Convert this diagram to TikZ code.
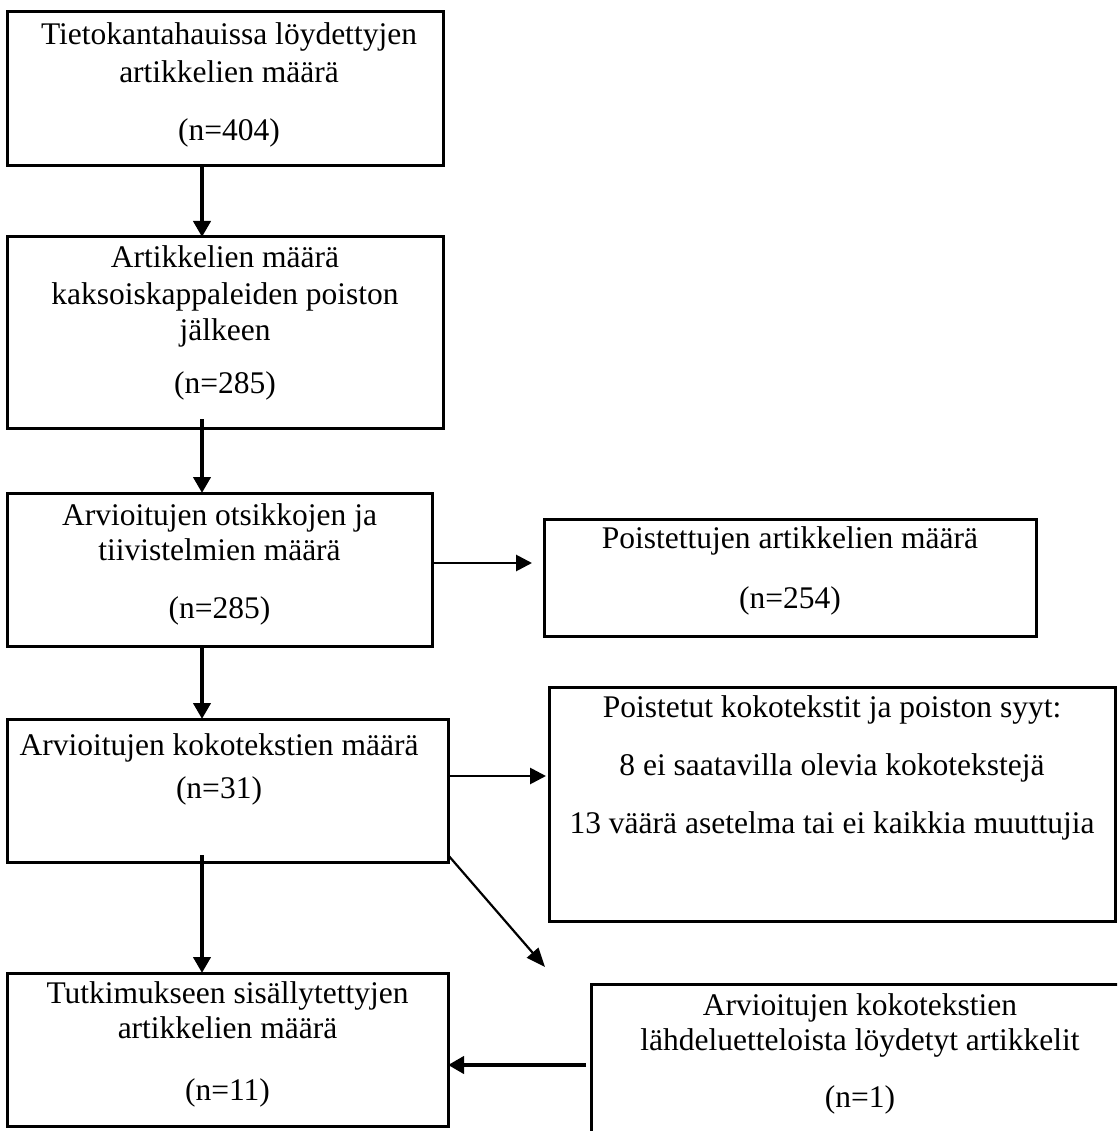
\documentclass[tikz,border=0pt]{standalone}
\usepackage{fontspec}
\setmainfont{Liberation Serif}
\usetikzlibrary{arrows.meta}
\tikzset{
  box/.style={draw, line width=3pt, inner sep=0pt, outer sep=0pt, rectangle},
  txt/.style={anchor=base, inner sep=0pt, font=\fontsize{31.5}{37}\selectfont},
  thickarrow/.style={line width=4.2pt, -{Triangle[length=16pt,width=17pt]}},
  thinarrow/.style={line width=2.8pt, -{Triangle[length=16pt,width=16pt]}},
  diagarrow/.style={line width=2.2pt, -{Triangle[length=19pt,width=15pt]}}
}
\begin{document}
\begin{tikzpicture}[x=1pt,y=-1pt]
\useasboundingbox (0,0) rectangle (1117,1131);
\clip (0,0) rectangle (1117,1131);
% boxes
\node[box, minimum width=436pt, minimum height=154pt] (b1) at (225,89) {};
\node[box, minimum width=436pt, minimum height=191pt] (b2) at (225,332.5) {};
\node[box, minimum width=425pt, minimum height=153pt] (b3) at (219.5,569.5) {};
\node[box, minimum width=492pt, minimum height=117pt] (b3r) at (790,577.5) {};
\node[box, minimum width=441pt, minimum height=143pt] (b4) at (227.5,790.5) {};
\node[box, minimum width=566pt, minimum height=234pt] (b4r) at (832,804) {};
\node[box, minimum width=441pt, minimum height=153pt] (b5) at (227.5,1049.5) {};
\node[box, minimum width=538pt, minimum height=200pt] (b5r) at (860,1084) {};
% texts
\node[txt] (t1a) at (229,45) {Tietokantahauissa löydettyjen};
\node[txt] (t1b) at (229,83) {artikkelien määrä};
\node[txt] (t1c) at (229,141) {(n=404)};
\node[txt] (t2a) at (225,268) {Artikkelien määrä};
\node[txt] (t2b) at (225,305) {kaksoiskappaleiden poiston};
\node[txt] (t2c) at (225,340) {jälkeen};
\node[txt] (t2d) at (225,393) {(n=285)};
\node[txt] (t3a) at (219.5,525) {Arvioitujen otsikkojen ja};
\node[txt] (t3b) at (219.5,560) {tiivistelmien määrä};
\node[txt] (t3c) at (219.5,618) {(n=285)};
\node[txt] (t3ra) at (790,548) {Poistettujen artikkelien määrä};
\node[txt] (t3rb) at (790,608) {(n=254)};
\node[txt] (t4a) at (219,755) {Arvioitujen kokotekstien määrä};
\node[txt] (t4b) at (219,798) {(n=31)};
\node[txt] (t4ra) at (832,717) {Poistetut kokotekstit ja poiston syyt:};
\node[txt] (t4rb) at (832,775) {8 ei saatavilla olevia kokotekstejä};
\node[txt] (t4rc) at (832,833) {13 väärä asetelma tai ei kaikkia muuttujia};
\node[txt] (t5a) at (227.5,1003) {Tutkimukseen sisällytettyjen};
\node[txt] (t5b) at (227.5,1038) {artikkelien määrä};
\node[txt] (t5c) at (227.5,1100) {(n=11)};
\node[txt] (t5ra) at (860,1015) {Arvioitujen kokotekstien};
\node[txt] (t5rb) at (860,1050) {lähdeluetteloista löydetyt artikkelit};
\node[txt] (t5rc) at (860,1107) {(n=1)};
% connectors
\draw[thickarrow] ([xshift=-23pt]b1.south) -- ([xshift=-23pt]b2.north);
\draw[thickarrow] ([xshift=-23pt,yshift=9pt]b2.south) -- ([xshift=-17.5pt]b3.north);
\draw[thinarrow] ([yshift=6.5pt]b3.east) -- ([xshift=-12pt,yshift=14.5pt]b3r.west);
\draw[thickarrow] ([xshift=-17.5pt]b3.south) -- ([xshift=-25.5pt]b4.north);
\draw[thinarrow] ([yshift=14.5pt]b4.east) -- ([xshift=-3pt,yshift=28pt]b4r.west);
\draw[thickarrow] ([xshift=-25.5pt,yshift=7pt]b4.south) -- ([xshift=-25.5pt]b5.north);
\coordinate (d1) at (545,967);
\draw[diagarrow] ([yshift=7pt]b4.south east) -- (d1);
\draw[thickarrow] ([xshift=-5pt,yshift=19pt]b5r.west) -- ([yshift=-15.5pt]b5.east);
\end{tikzpicture}
\end{document}
